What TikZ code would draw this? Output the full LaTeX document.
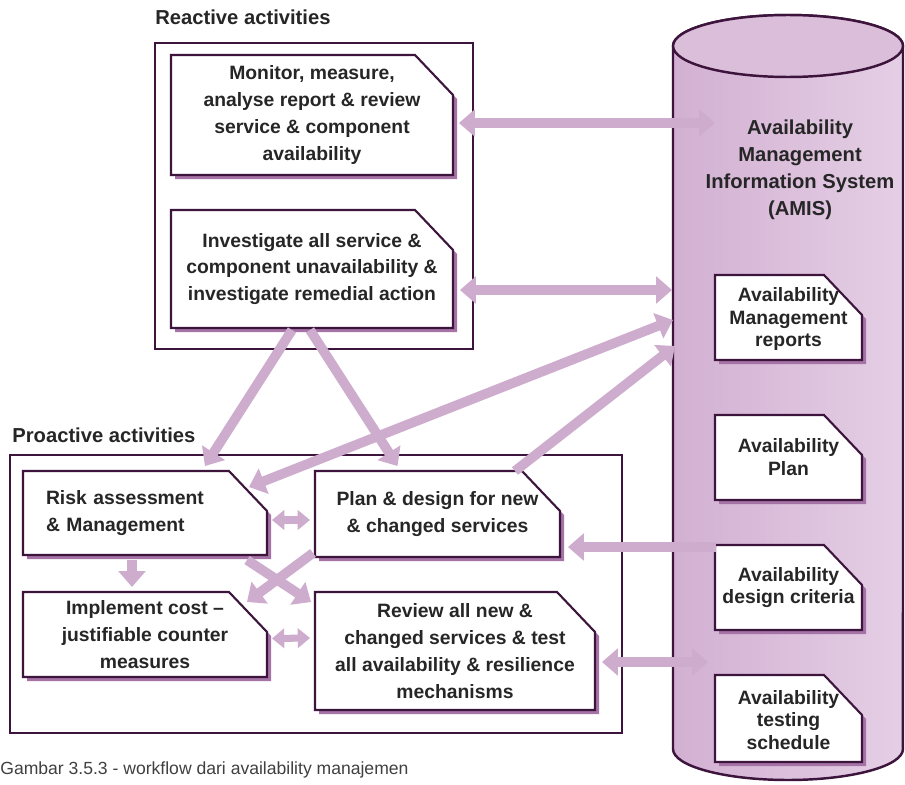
\documentclass[tikz,border=0pt]{standalone}
\usepackage{fontspec}
\setmainfont{Liberation Sans}
\usetikzlibrary{calc, arrows.meta}
\definecolor{edgec}{RGB}{60,20,60}
\definecolor{flowc}{RGB}{206,172,206}
\definecolor{shadc}{RGB}{165,115,165}
\definecolor{cylL}{RGB}{210,176,210}
\definecolor{cylM}{RGB}{224,198,224}
\definecolor{cylR}{RGB}{229,207,229}
\definecolor{cylT}{RGB}{218,190,218}

\begin{document}
\begin{tikzpicture}[x=0.02cm, y=-0.02cm,
grpframe/.style = {draw=edgec, line width=1.6pt},
grp/.style = {font=\bfseries\fontsize{11.5}{14}\selectfont, inner sep=0pt, text=black!85},
doc/.style = {draw=edgec, line width=1.2pt, fill=white},
docshad/.style = {fill=shadc},
doctext/.style = {font=\bfseries\fontsize{11}{15.3}\selectfont, align=center,
                  inner sep=0pt, outer sep=0pt, text=black!85},
doctextsm/.style = {doctext, font=\bfseries\fontsize{11}{13}\selectfont,
                    minimum width=2.94cm, minimum height=1.7cm},
flow/.style = {draw=flowc, line width=5.5pt, -{Triangle[width=15pt,length=9pt]}},
flow2/.style = {draw=flowc, line width=5.5pt,
                {Triangle[width=15pt,length=9pt]}-{Triangle[width=15pt,length=9pt]}},
pair/.style = {draw=flowc, line width=4pt,
               {Triangle[width=11pt,length=7pt]}-{Triangle[width=11pt,length=7pt]}},
                        ]
\useasboundingbox (0,0) rectangle (905,784);
\fill[white] (0,0) rectangle (905,784);
% group frames
\draw[grpframe] (155,43) rectangle (473,349);
\draw[grpframe] (10,455) rectangle (622,733);
\node[grp, anchor=west] (reactlbl) at (155,17) {Reactive activities};
\node[grp, anchor=west] (proactlbl) at (12,435) {Proactive activities};
% AMIS cylinder
\shade[left color=cylL, middle color=cylM, right color=cylR, draw=edgec, line width=1.4pt]
  (673,46) -- (673,749) arc[start angle=180, end angle=360, x radius=2.3cm, y radius=0.62cm]
  -- (903,46) arc[start angle=0, end angle=180, x radius=2.3cm, y radius=0.62cm] -- cycle;
\fill[cylT] (788,46) ellipse [x radius=2.3cm, y radius=0.62cm];
\draw[edgec, line width=1.4pt] (788,46) ellipse [x radius=2.3cm, y radius=0.62cm];
\node[doctext, font=\bfseries\fontsize{11.5}{15.3}\selectfont] (amis) at (800,170)
  {Availability\\Management\\Information System\\(AMIS)};
% document outlines
\foreach \xa/\ya/\xb/\yb in {171/55/453/175, 171/210/453/328, 23/471/267/555,
    23/592/267/677, 315/471/560/557, 315/592/595/710,
    715/275/862/360, 715/415/862/500, 715/545/862/630, 715/675/862/762}{
  \fill[docshad, shift={(4,4)}] (\xa,\yb) -- (\xa,\ya) -- (\xb-38,\ya) -- (\xb,\ya+40) -- (\xb,\yb) -- cycle;
  \draw[doc] (\xa,\yb) -- (\xa,\ya) -- (\xb-38,\ya) -- (\xb,\ya+40) -- (\xb,\yb) -- cycle;
}
% reactive documents
\node[doctext, minimum width=5.64cm, minimum height=2.4cm] (mon) at (312,115)
  {Monitor, measure,\\analyse report \& review\\service \& component\\availability};
\node[doctext, minimum width=5.64cm, minimum height=2.36cm] (inv) at (312,269)
  {Investigate all service \&\\component unavailability \&\\investigate remedial action};
% proactive documents
\node[doctext, align=left, text width=3.96cm, inner xsep=0.46cm, minimum height=1.68cm]
  (risk) at (145,513) {Risk assessment\\\& Management};
\node[doctext, minimum width=4.88cm, minimum height=1.7cm] (impl) at (145,634.5)
  {Implement cost --\\justifiable counter\\measures};
\node[doctext, minimum width=4.9cm, minimum height=1.72cm] (plan) at (437.5,514)
  {Plan \& design for new\\\& changed services};
\node[doctext, minimum width=5.6cm, minimum height=2.36cm] (rev) at (455,651)
  {Review all new \&\\changed services \& test\\all availability \& resilience\\mechanisms};
% AMIS documents
\node[doctextsm] (rep) at (788.5,319) {Availability\\Management\\reports};
\node[doctextsm] (apl) at (788.5,457.5) {Availability\\Plan};
\node[doctextsm] (crit) at (788.5,587.5) {Availability\\design criteria};
\node[doctextsm, minimum height=1.74cm] (test) at (788.5,720) {Availability\\testing\\schedule};
% arrow ends on the cylinder
\coordinate (amis1) at (715,123);
\coordinate (amis2) at (672,290);
\coordinate (amis3) at (673,320);
\coordinate (amis4) at (675,346);
\coordinate (amis5) at (716,547);
\coordinate (amis6) at (708,662);
% arrows
\draw[flow2] ($(mon.east)+(6,8)$) -- (amis1);
\draw[flow2] ($(inv.east)+(7,21)$) -- (amis2);
\draw[flow2] ($(risk.north east)+(-18,16)$) -- (amis3);
\draw[flow] ($(plan.north east)+(-45,0)$) -- (amis4);
\draw[flow] ($(inv.south)+(-20,2)$) -- ($(risk.north)+(60,-5)$);
\draw[flow] ($(inv.south)+(-2,2)$) -- ($(plan.north)+(-40,-5)$);
\draw[pair] ($(risk.east)+(5,7)$) -- ($(plan.west)+(-5,6)$);
\draw[pair] ($(impl.east)+(5,4)$) -- ($(rev.west)+(-5,-13)$);
\draw[flow] ($(risk.south)+(-13,5)$) -- ($(impl.north)+(-13,-5)$);
\draw[flow] ($(risk.south east)+(-20,5)$) -- ($(rev.north west)+(-4,10)$);
\draw[flow] ($(plan.south west)+(-2,-4)$) -- ($(impl.north east)+(-20,10)$);
\draw[flow] (amis5) -- ($(plan.east)+(8,33)$);
\draw[flow2] ($(rev.east)+(7,11)$) -- (amis6);
% caption
\node[anchor=west, inner sep=0pt, font=\fontsize{10}{12}\selectfont, text=black!75]
  (caption) at (0,770) {Gambar 3.5.3 - workflow dari availability manajemen};
\end{tikzpicture}
\end{document}
